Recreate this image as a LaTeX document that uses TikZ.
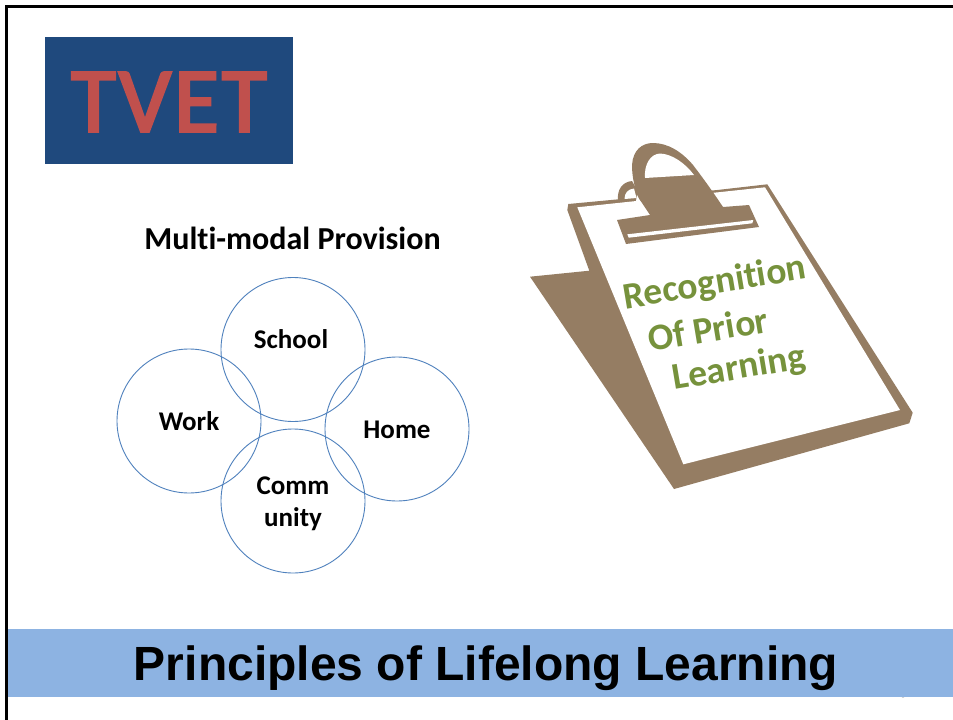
\documentclass[tikz,border=0pt]{standalone}
\usepackage{fontspec}
\setmainfont[Ligatures=NoCommon]{Carlito}
\newfontfamily\titlefont{Liberation Sans}
\newfontfamily\tvetfont[Ligatures=NoCommon,FakeBold=3]{Carlito}
\definecolor{brownclip}{HTML}{957D63}
\definecolor{greentxt}{HTML}{76923C}
\definecolor{navybox}{HTML}{1F497D}
\definecolor{redtxt}{HTML}{C0504D}
\definecolor{bandblue}{HTML}{8DB3E2}
\definecolor{ringblue}{HTML}{4F81BD}
\tikzset{
  venn/.style={circle,draw=ringblue,line width=0.9pt,minimum size=144pt,inner sep=0pt},
  venntxt/.style={font=\bfseries\fontsize{27}{32}\selectfont,align=center,text=black},
  cliptxt/.style={font=\bfseries\fontsize{37.5}{42}\selectfont,text=greentxt,rotate=9.5},
  brownfill/.style={fill=brownclip,draw=none},
  whitefill/.style={fill=white,draw=none}
}
\begin{document}
\begin{tikzpicture}[x=1pt,y=-1pt]
\useasboundingbox (0,0) rectangle (953,720);
\fill[white] (0,0) rectangle (953,720);
% frame
\fill[black] (5,5) rectangle (953,7.7);
\fill[black] (5,5) rectangle (7.7,720);
% slide-number remnant
\fill[gray!70] (903,695) circle (2.6);
% band
\fill[bandblue] (7.7,629) rectangle (953,697);
\node[font=\titlefont\bfseries\fontsize{48}{50}\selectfont,text=black] (title) at (486,668.5) {Principles of Lifelong Learning};
% TVET
\fill[navybox] (45,37) rectangle (293,164);
\node[font=\tvetfont\fontsize{92}{94}\selectfont,text=redtxt] (tvet) at (169,102) {T\kern3ptV\kern3ptE\kern3ptT};
% heading
\node[font=\bfseries\fontsize{32}{34}\selectfont,text=black] (head) at (292.5,238) {Multi-modal Provision};
% circles
\node[venn] (school) at (293,349.5) {};
\node[venn] (work) at (189,421) {};
\node[venn] (home) at (397,429) {};
\node[venn] (comm) at (293,501) {};
\node[venntxt] (t1) at (291,339) {School};
\node[venntxt] (t2) at (189,421.5) {Work};
\node[venntxt] (t3) at (397,429.5) {Home};
\node[venntxt] (t4) at (293,504) {Comm\\unity};
% clipboard
\path[brownfill] (530,276.7) -- (589.3,270.7) -- (567.3,210) -- (568.3,204) -- (621.7,199) -- (717.3,190) -- (767.3,184.3) -- (912.7,412.7) -- (909.3,423.3) -- (674,489) -- cycle;
\path[whitefill] (577.3,207.3) -- (765,187.3) -- (900,410) -- (683.3,464.3) -- cycle;
% ring
\path[brownfill] (618,200) .. controls (617,190) and (622,182) .. (632,181) -- (640,195) -- (640,203) -- (637,201) -- cycle;
\path[whitefill] (624.5,199) .. controls (624.5,193) and (628,189) .. (634,188.5) -- (636.5,198) -- cycle;
% handle
\path[brownfill] (617,220) -- (650,215) -- (640,200) .. controls (635,190) and (632,178) .. (632,165)
  .. controls (633,150) and (642,143) .. (653,143)
  .. controls (668,143) and (682,152) .. (693,165)
  .. controls (703,178) and (713,192) .. (723,207)
  -- (749,205) -- (759,227) -- (626,244) -- cycle;
\path[whitefill] (645,178) .. controls (644,165) and (650,154) .. (660,153.5)
  .. controls (672,154) and (685,163) .. (694,175) -- cycle;
\path[whitefill] (627.3,234.3) -- (753.3,220) -- (752.3,223.3) -- (628.7,237.7) -- cycle;
\path[whitefill] (637,195) -- (646,212) -- (636,201) -- cycle;
\node[cliptxt] (c1) at (715,284) {Recognition};
\node[cliptxt] (c2) at (708,329) {Of Prior};
\node[cliptxt] (c3) at (739,369) {Learning};
\end{tikzpicture}
\end{document}
